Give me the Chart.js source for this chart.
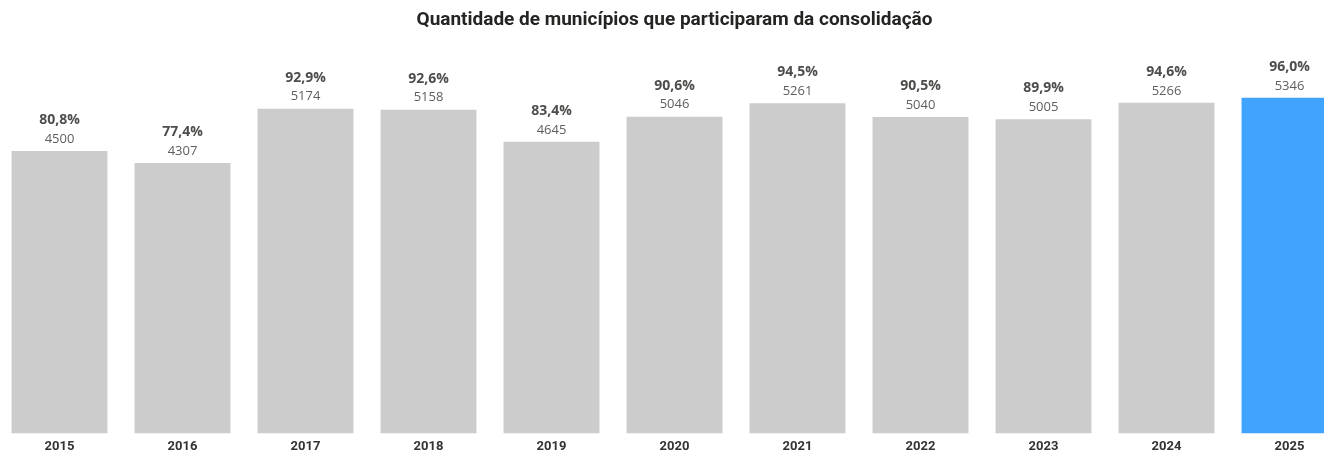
<!DOCTYPE html>
<html>
<head>
<meta charset="utf-8">
<script src="https://cdn.jsdelivr.net/npm/chart.js@4.4.1/dist/chart.umd.min.js"></script>
<style>
  html, body { margin: 0; padding: 0; background: #ffffff; overflow: hidden; }
  #wrap { position: absolute; left: -2px; top: 0; width: 1353px; height: 461px; }
</style>
</head>
<body>
<div id="wrap"><canvas id="c"></canvas></div>
<script>
const years = ['2015','2016','2017','2018','2019','2020','2021','2022','2023','2024','2025'];
const counts = [4500, 4307, 5174, 5158, 4645, 5046, 5261, 5040, 5005, 5266, 5346];
const percents = ['80,8%','77,4%','92,9%','92,6%','83,4%','90,6%','94,5%','90,5%','89,9%','94,6%','96,0%'];
const highlightYear = '2025';
const titleText = 'Quantidade de municípios que participaram da consolidação';

const greyBar = '#CCCCCC';
const blueBar = '#40A4FF';

const labelPlugin = {
  id: 'barLabels',
  afterDatasetsDraw(chart) {
    const ctx = chart.ctx;
    const meta = chart.getDatasetMeta(0);
    ctx.save();
    ctx.textAlign = 'center';
    ctx.textBaseline = 'middle';
    meta.data.forEach((bar, i) => {
      ctx.fillStyle = '#605E5C';
      ctx.font = '13px "Open Sans"';
      ctx.fillText(String(counts[i]), bar.x, bar.y - 12);
      ctx.fillStyle = '#4F4D4B';
      ctx.font = 'bold 14px "Open Sans"';
      ctx.fillText(percents[i], bar.x, bar.y - 31);
    });
    ctx.restore();
  }
};

new Chart(document.getElementById('c'), {
  type: 'bar',
  data: {
    labels: years,
    datasets: [{
      data: counts,
      backgroundColor: years.map(y => y === highlightYear ? blueBar : greyBar),
      borderWidth: 0,
      barPercentage: 0.78,
      categoryPercentage: 1.0
    }]
  },
  options: {
    responsive: true,
    maintainAspectRatio: false,
    animation: false,
    layout: { padding: { left: 0, right: 0, top: 0, bottom: 0 } },
    plugins: {
      legend: { display: false },
      tooltip: { enabled: false },
      title: {
        display: true,
        text: titleText,
        color: '#252423',
        font: { family: 'Roboto', weight: 'bold', size: 19 },
        padding: { top: 9, bottom: 25 }
      }
    },
    scales: {
      x: {
        grid: { display: false, drawTicks: false },
        border: { display: false },
        ticks: {
          color: '#333333',
          font: { family: 'Roboto', weight: 'bold', size: 13 },
          padding: 6,
          maxRotation: 0
        }
      },
      y: {
        display: false,
        min: 0,
        max: 6000
      }
    }
  },
  plugins: [labelPlugin]
});
</script>
</body>
</html>
